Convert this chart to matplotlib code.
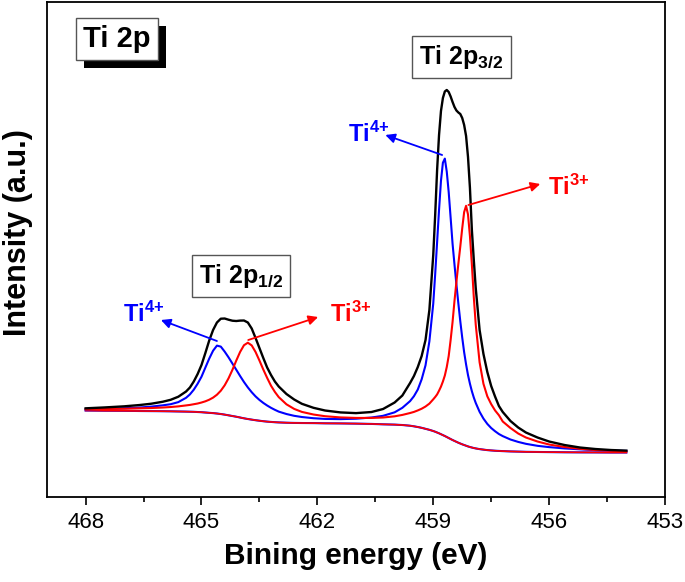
import matplotlib
matplotlib.use("Agg")
import matplotlib.pyplot as plt
from matplotlib import patheffects

plt.rcParams['font.family'] = ['Liberation Sans', 'DejaVu Sans']
plt.rcParams['mathtext.fontset'] = 'custom'
plt.rcParams['mathtext.rm'] = 'Liberation Sans:bold'
plt.rcParams['mathtext.bf'] = 'Liberation Sans:bold'
plt.rcParams['mathtext.default'] = 'rm'

# binding energy grid (eV)
energy = [468, 467.5, 467, 466.6, 466.3, 466.0, 465.8, 465.6, 465.4, 465.3,
          465.2, 465.1, 465.0, 464.9, 464.8, 464.7, 464.6, 464.5, 464.4, 464.3,
          464.2, 464.1, 464.0, 463.9, 463.8, 463.7, 463.6, 463.5, 463.4, 463.3,
          463.2, 463.1, 463.0, 462.8, 462.6, 462.4, 462.1, 461.8, 461.4, 461.0,
          460.6, 460.3, 460.0, 459.8, 459.6, 459.5, 459.4, 459.3, 459.2, 459.1,
          459.0, 458.95, 458.9, 458.85, 458.8, 458.75, 458.7, 458.65, 458.6, 458.55,
          458.5, 458.45, 458.4, 458.35, 458.3, 458.25, 458.2, 458.15, 458.1, 458.05,
          458.0, 457.95, 457.9, 457.8, 457.7, 457.6, 457.5, 457.4, 457.3, 457.2,
          457.0, 456.8, 456.6, 456.3, 456.0, 455.6, 455.2, 454.8, 454.4, 454.0]

# measured envelope
total = [91.7, 92.6, 93.7, 95.0, 96.3, 98.3, 100.2, 103.3, 108.5, 112.5,
         118.5, 126, 135, 147, 159.5, 170, 177.5, 181.3, 181.5, 180.3,
         179.3, 179.0, 179.4, 179.5, 177.5, 171.5, 162, 152, 142, 132.5,
         125, 118.5, 113.5, 106, 100.5, 96.2, 92.2, 89.5, 87.6, 86.9,
         88.0, 91.0, 97.5, 104.5, 117, 124, 133, 144, 160, 190,
         245, 285, 330, 365, 389, 402, 408.5, 410, 408, 403.5,
         398, 393, 389.5, 387.5, 386, 382, 375, 364, 343, 312,
         270, 240, 212, 170, 146, 128, 114, 103.5, 94, 88,
         79, 72.5, 67.5, 62.5, 58.5, 55, 52.5, 51, 50, 49.4]

# Ti4+ component
ti4 = [90.7, 91.1, 91.8, 92.5, 93.4, 94.7, 95.8, 97.9, 102.2, 105.6,
       110.3, 116.3, 123.3, 132.4, 141.4, 149.3, 154.4, 153.4, 148.4, 142.7,
       136.5, 130.3, 124.0, 118.0, 112.6, 107.8, 103.6, 100.1, 97.1, 94.5,
       92.2, 90.2, 88.4, 86.0, 84.2, 83.0, 81.8, 81.1, 80.9, 81.3,
       82.5, 84.2, 87.7, 92.2, 98.9, 103.8, 110.5, 120.7, 134.7, 158.7,
       196.4, 225.7, 257.9, 290.1, 319.2, 337.3, 341.4, 328.3, 307.9, 282.3,
       256.3, 235.4, 215.5, 196.6, 178.8, 162.5, 147.8, 135.6, 124.9, 116.3,
       108.8, 102.5, 97.1, 88.2, 81.4, 76.1, 72.0, 68.8, 66.0, 63.9,
       60.5, 58.1, 56.2, 54.2, 52.9, 51.6, 50.7, 49.9, 49.4, 49.1]

# Ti3+ component
ti3 = [90.9, 91.0, 91.3, 91.7, 92.0, 92.5, 93.0, 93.65, 94.6, 95.1,
       95.8, 96.5, 97.5, 98.7, 100.3, 102.4, 105.3, 109.3, 114.7, 121.7,
       130.1, 139.4, 148.1, 154.8, 157.3, 154.6, 148.0, 139.5, 130.5, 122.1,
       114.3, 108.1, 102.9, 95.7, 91.1, 88.1, 85.5, 83.8, 82.6, 82.1,
       82.1, 82.5, 83.7, 85.1, 87.0, 88.1, 89.6, 91.3, 93.5, 96.4,
       100.7, 103.0, 105.6, 109.3, 113.4, 118.5, 124.5, 133.0, 144.0, 160.0,
       178.0, 199.1, 218.2, 236.2, 253.4, 271.6, 287.9, 294.2, 285.5, 263.9,
       235.4, 202.9, 175.5, 137.7, 116.2, 103.7, 95.9, 89.6, 84.8, 78.5,
       72.0, 66.5, 62.5, 58.5, 55.5, 53.0, 51.2, 50.0, 49.2, 48.6]

# Shirley background
background = [89.5, 89.3, 89.2, 89.0, 88.9, 88.8, 88.7, 88.55, 88.4, 88.3,
              88.2, 88.0, 87.8, 87.5, 87.2, 86.9, 86.5, 86.0, 85.4, 84.7,
              84.0, 83.3, 82.5, 81.7, 81.0, 80.4, 79.8, 79.3, 78.8, 78.4,
              78.1, 77.8, 77.6, 77.3, 77.1, 77.0, 76.9, 76.7, 76.6, 76.4,
              76.1, 75.7, 75.4, 75.0, 74.3, 73.7, 73.0, 72.2, 71.2, 70.2,
              69.0, 68.3, 67.5, 66.7, 65.8, 64.9, 64.0, 63.0, 62.0, 61.0,
              60.0, 59.1, 58.2, 57.3, 56.5, 55.7, 55.0, 54.3, 53.6, 53.0,
              52.5, 52.0, 51.6, 50.9, 50.4, 49.9, 49.6, 49.3, 49.1, 48.9,
              48.6, 48.4, 48.2, 48.05, 47.9, 47.75, 47.65, 47.6, 47.5, 47.5]

xticks = [468, 465, 462, 459, 456, 453]

fig = plt.figure(figsize=(6.85, 5.82), dpi=100)
ax = fig.add_axes([0.0686, 0.146, 0.9022, 0.8506])

ax.plot(energy, background, color='blue', lw=1.5)
ax.plot(energy, background, color='red', lw=1.2)
ax.plot(energy, ti4, color='blue', lw=1.5)
ax.plot(energy, ti3, color='red', lw=1.5)
ax.plot(energy, total, color='black', lw=1.7)

ax.set_xlim(469, 453)
ax.set_ylim(3, 498)
ax.set_xticks(xticks)
ax.set_xticklabels([str(t) for t in xticks])
ax.set_xticks([466.5, 463.5, 460.5, 457.5, 454.5], minor=True)
ax.set_yticks([])
ax.tick_params(axis='x', which='major', direction='out', length=6, width=1.2,
               labelsize=16, pad=5, top=False)
ax.tick_params(axis='x', which='minor', direction='out', length=3.5, width=1.2, top=False)
for s in ax.spines.values():
    s.set_linewidth(1.3)

ax.set_xlabel('Bining energy (eV)', fontsize=21.5, fontweight='bold')
ax.xaxis.set_label_coords(0.5, -0.09)
ax.set_ylabel('Intensity (a.u.)', fontsize=22, fontweight='bold')
ax.yaxis.set_label_coords(-0.022, 0.535)

# arrows to components
arr = dict(arrowstyle='-|>', lw=1.3, shrinkA=0, shrinkB=0, mutation_scale=14)
ax.annotate('', xy=(466.05, 180), xytext=(464.60, 159), arrowprops=dict(arr, color='blue'))
ax.annotate('', xy=(461.98, 183), xytext=(463.79, 160), arrowprops=dict(arr, color='red'))
ax.annotate('', xy=(460.24, 365), xytext=(458.77, 345), arrowprops=dict(arr, color='blue'))
ax.annotate('', xy=(456.23, 316), xytext=(458.09, 295), arrowprops=dict(arr, color='red'))

lab = dict(fontsize=17, fontweight='bold', va='baseline', ha='left')
ax.text(467.03, 178, 'Ti$^{4{+}}$', color='blue', **lab)
ax.text(461.67, 178, 'Ti$^{3{+}}$', color='red', **lab)
ax.text(461.20, 358, 'Ti$^{4{+}}$', color='blue', **lab)
ax.text(456.02, 305, 'Ti$^{3{+}}$', color='red', **lab)

# boxed labels
box = dict(boxstyle='square,pad=0.28', fc='white', ec='#555555', lw=1)
ax.text(458.27, 442.5, 'Ti 2p$_{3/2}$', fontsize=18, fontweight='bold',
        ha='center', va='center', bbox=box)
ax.text(463.98, 224, 'Ti 2p$_{1/2}$', fontsize=18, fontweight='bold',
        ha='center', va='center', bbox=box)

t = ax.text(467.19, 461, 'Ti 2p', fontsize=21, fontweight='bold', ha='center', va='center',
            bbox=dict(boxstyle='square,pad=0.25', fc='white', ec='#555555', lw=1))
t.get_bbox_patch().set_path_effects([
    patheffects.SimplePatchShadow(offset=(5.8, -5.8), shadow_rgbFace='black', alpha=1.0),
    patheffects.Normal()])

fig.savefig('out.png', dpi=100)
